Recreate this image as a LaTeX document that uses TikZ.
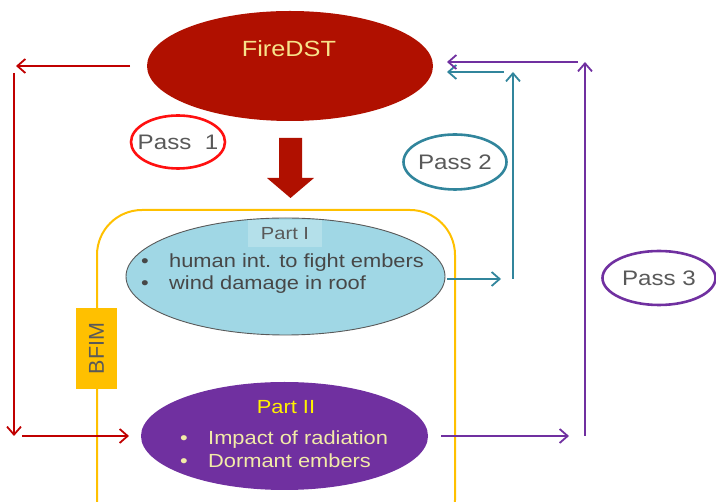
\documentclass[tikz,border=0pt]{standalone}
\usepackage{fontspec}
\setmainfont[FakeStretch=1.15]{Liberation Sans}
\newfontfamily\bfimfont{Liberation Sans}
\usetikzlibrary{shapes.geometric,arrows.meta}
\definecolor{firered}{HTML}{B01000}
\definecolor{linered}{HTML}{C00000}
\definecolor{ringred}{HTML}{FF1010}
\definecolor{tealc}{HTML}{31859C}
\definecolor{purplec}{HTML}{7030A0}
\definecolor{skyc}{HTML}{A0D7E5}
\definecolor{skylbl}{HTML}{B4E0EA}
\definecolor{ambc}{HTML}{FFC000}
\definecolor{txtgray}{HTML}{595959}
\definecolor{paleyel}{HTML}{F7E38A}
\definecolor{khaki}{HTML}{F2EBA8}
\tikzset{
  barb/.style={line width=1.8pt, -{Straight Barb[length=8pt,width=14pt,line width=1.8pt]}},
  blob/.style={ellipse, inner sep=0pt},
  ring/.style={ellipse, inner sep=0pt, line width=2.6pt},
  ringtxt/.style={text=txtgray, inner sep=0pt, font=\fontsize{21}{25}\selectfont},
  bullettxt/.style={anchor=base west, inner sep=0pt, font=\fontsize{19}{23}\selectfont},
}
\newcommand{\bitem}[1]{\makebox[28pt][l]{\textbullet}#1}
\begin{document}
\begin{tikzpicture}[x=1pt,y=-1pt]
    \clip (0,0) rectangle (716,502);
    % BFIM frame
    \draw[ambc, line width=2pt, rounded corners=45pt] (97,210) rectangle (455,545);
    % FireDST
    \node[blob, fill=firered, minimum width=286pt, minimum height=110pt] (fire) at (290,66) {};
    \node[text=paleyel, font=\fontsize{22}{25}\selectfont] (firelbl) at (289,49) {FireDST};
    \node[ring, draw=ringred, minimum width=94pt, minimum height=53pt] (pass1) at (178,142) {};
    \node[ringtxt] (pass1lbl) at (pass1) {Pass\ \ 1};
    \node[ring, draw=tealc, minimum width=103pt, minimum height=55pt] (pass2) at (455,162) {};
    \node[ringtxt] (pass2lbl) at (pass2) {Pass 2};
    \node[ring, draw=purplec, minimum width=113pt, minimum height=54pt] (pass3) at (659,278) {};
    \node[ringtxt] (pass3lbl) at (pass3) {Pass 3};
    \fill[firered] (279,138) -- (302,138) -- (302,178) -- (314,178) -- (290.5,198)
        -- (267,178) -- (279,178) -- cycle;
    % Part I
    \node[blob, fill=skyc, draw=black!65, line width=0.9pt, minimum width=319pt,
        minimum height=117pt] (part1) at (285.5,276.5) {};
    \node[fill=skylbl, text=txtgray, minimum width=74pt, minimum height=27pt, inner sep=0pt,
        font=\fontsize{17.5}{20}\selectfont] (part1lbl) at (285,234) {Part I};
    \node[bullettxt, text=txtgray!80!black] (p1a) at (141,268) {\bitem{human int. to fight embers}};
    \node[bullettxt, text=txtgray!80!black] (p1b) at (141,290) {\bitem{wind damage in roof}};
    % BFIM
    \node[fill=ambc, text=txtgray, rotate=90, minimum width=81pt, minimum height=41pt,
        inner sep=0pt, font=\bfimfont\fontsize{21.5}{25}\selectfont] (bfim) at (96.5,348.5) {BFIM};
    % Part II
    \node[blob, fill=purplec, minimum width=287pt, minimum height=108pt] (part2) at (284.5,436) {};
    \node[text=yellow, font=\fontsize{19}{23}\selectfont] (part2lbl) at (286,407) {Part II};
    \node[bullettxt, text=khaki] (p2a) at (180,445) {\bitem{Impact of radiation}};
    \node[bullettxt, text=khaki] (p2b) at (180,468) {\bitem{Dormant embers}};
    % pass 1 loop
    \coordinate (r1) at (130,66);
    \coordinate (r2) at (16,66);
    \coordinate (r3) at (14,73);
    \coordinate (r4) at (14,436);
    \coordinate (r5) at (22,436);
    \coordinate (r6) at (129,436);
    \draw[barb, linered] (r1) -- (r2);
    \draw[barb, linered] (r3) -- (r4);
    \draw[barb, linered] (r5) -- (r6);
    % pass 2 loop
    \coordinate (t1) at (447,279);
    \coordinate (t2) at (501,279);
    \coordinate (t3) at (513,279);
    \coordinate (t4) at (513,72);
    \coordinate (t5) at (504,72);
    \coordinate (t6) at (447,72);
    \draw[barb, tealc] (t1) -- (t2);
    \draw[barb, tealc] (t3) -- (t4);
    \draw[barb, tealc] (t5) -- (t6);
    % pass 3 loop
    \coordinate (u1) at (441,436);
    \coordinate (u2) at (569,436);
    \coordinate (u3) at (585,436);
    \coordinate (u4) at (585,62);
    \coordinate (u5) at (578,62);
    \coordinate (u6) at (447,62);
    \draw[barb, purplec] (u1) -- (u2);
    \draw[barb, purplec] (u3) -- (u4);
    \draw[barb, purplec] (u5) -- (u6);
\end{tikzpicture}
\end{document}
